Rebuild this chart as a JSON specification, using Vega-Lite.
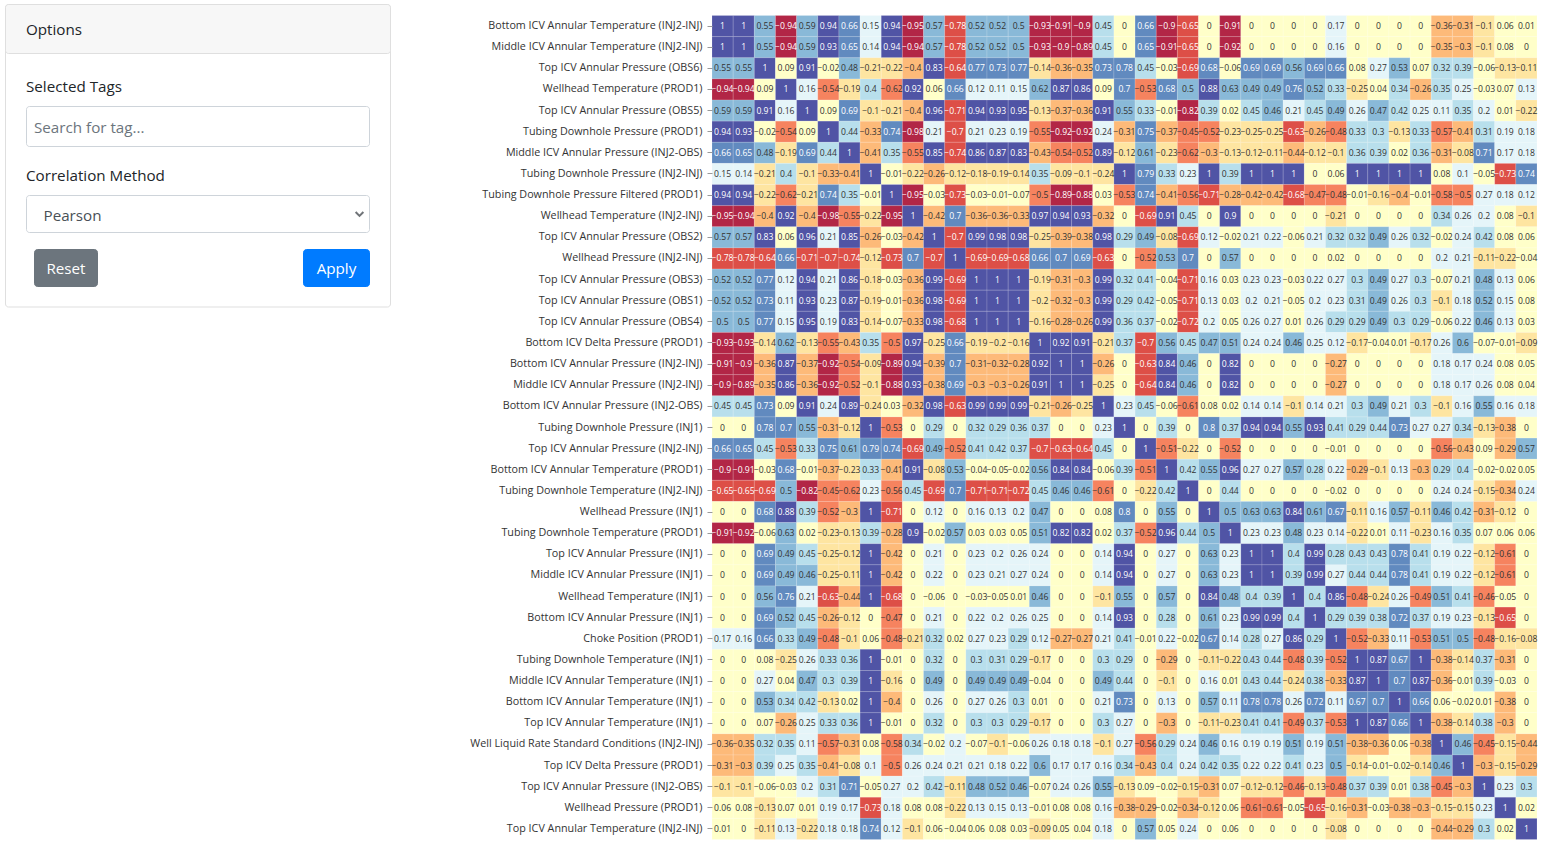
{"$schema":"https://vega.github.io/schema/vega-lite/v6.json","description":"Options panel and Pearson correlation heatmap of well tags","padding":0,"spacing":78,"background":"white","config":{"view":{"stroke":null},"font":"Open Sans"},
"datasets":{
"panel":[{"part":"card","x":5.5,"x2":390.5,"y":4.5,"y2":307},{"part":"header","x":5.5,"x2":390.5,"y":4.5,"y2":53.5},{"part":"input","x":26.5,"x2":369.5,"y":106.5,"y2":146.5},{"part":"input","x":26.5,"x2":369.5,"y":195.5,"y2":232.5},{"part":"reset","x":34.5,"x2":97.5,"y":249.5,"y2":286.5},{"part":"apply","x":303.5,"x2":369.5,"y":249.5,"y2":286.5}],
"labels":[{"kind":"label","text":"Options","x":26,"y":29.5},{"kind":"label","text":"Selected Tags","x":26,"y":87},{"kind":"hint","text":"Search for tag...","x":34,"y":128},{"kind":"label","text":"Correlation Method","x":26,"y":175.5},{"kind":"value","text":"Pearson","x":43.5,"y":215.5}],
"buttons":[{"text":"Reset","x":66,"y":268.5},{"text":"Apply","x":336.5,"y":268.5}],
"chevron":[{"x":359.5,"y":214}],
"tags":[{"i":1,"tag":"Bottom ICV Annular Temperature (INJ2-INJ)"},{"i":2,"tag":"Middle ICV Annular Temperature (INJ2-INJ)"},{"i":3,"tag":"Top ICV Annular Pressure (OBS6)"},{"i":4,"tag":"Wellhead Temperature (PROD1)"},{"i":5,"tag":"Top ICV Annular Pressure (OBS5)"},{"i":6,"tag":"Tubing Downhole Pressure (PROD1)"},{"i":7,"tag":"Middle ICV Annular Pressure (INJ2-OBS)"},{"i":8,"tag":"Tubing Downhole Pressure (INJ2-INJ)"},{"i":9,"tag":"Tubing Downhole Pressure Filtered (PROD1)"},{"i":10,"tag":"Wellhead Temperature (INJ2-INJ)"},{"i":11,"tag":"Top ICV Annular Pressure (OBS2)"},{"i":12,"tag":"Wellhead Pressure (INJ2-INJ)"},{"i":13,"tag":"Top ICV Annular Pressure (OBS3)"},{"i":14,"tag":"Top ICV Annular Pressure (OBS1)"},{"i":15,"tag":"Top ICV Annular Pressure (OBS4)"},{"i":16,"tag":"Bottom ICV Delta Pressure (PROD1)"},{"i":17,"tag":"Bottom ICV Annular Pressure (INJ2-INJ)"},{"i":18,"tag":"Middle ICV Annular Pressure (INJ2-INJ)"},{"i":19,"tag":"Bottom ICV Annular Pressure (INJ2-OBS)"},{"i":20,"tag":"Tubing Downhole Pressure (INJ1)"},{"i":21,"tag":"Top ICV Annular Pressure (INJ2-INJ)"},{"i":22,"tag":"Bottom ICV Annular Temperature (PROD1)"},{"i":23,"tag":"Tubing Downhole Temperature (INJ2-INJ)"},{"i":24,"tag":"Wellhead Pressure (INJ1)"},{"i":25,"tag":"Tubing Downhole Temperature (PROD1)"},{"i":26,"tag":"Top ICV Annular Pressure (INJ1)"},{"i":27,"tag":"Middle ICV Annular Pressure (INJ1)"},{"i":28,"tag":"Wellhead Temperature (INJ1)"},{"i":29,"tag":"Bottom ICV Annular Pressure (INJ1)"},{"i":30,"tag":"Choke Position (PROD1)"},{"i":31,"tag":"Tubing Downhole Temperature (INJ1)"},{"i":32,"tag":"Middle ICV Annular Temperature (INJ1)"},{"i":33,"tag":"Bottom ICV Annular Temperature (INJ1)"},{"i":34,"tag":"Top ICV Annular Temperature (INJ1)"},{"i":35,"tag":"Well Liquid Rate Standard Conditions (INJ2-INJ)"},{"i":36,"tag":"Top ICV Delta Pressure (PROD1)"},{"i":37,"tag":"Top ICV Annular Pressure (INJ2-OBS)"},{"i":38,"tag":"Wellhead Pressure (PROD1)"},{"i":39,"tag":"Top ICV Annular Temperature (INJ2-INJ)"}],
"cells":[
{"r":1,"c":1,"v":1},{"r":1,"c":2,"v":1},{"r":1,"c":3,"v":0.55},{"r":1,"c":4,"v":-0.94},{"r":1,"c":5,"v":0.59},{"r":1,"c":6,"v":0.94},{"r":1,"c":7,"v":0.66},{"r":1,"c":8,"v":0.15},{"r":1,"c":9,"v":0.94},{"r":1,"c":10,"v":-0.95},{"r":1,"c":11,"v":0.57},{"r":1,"c":12,"v":-0.78},{"r":1,"c":13,"v":0.52},{"r":1,"c":14,"v":0.52},{"r":1,"c":15,"v":0.5},{"r":1,"c":16,"v":-0.93},{"r":1,"c":17,"v":-0.91},{"r":1,"c":18,"v":-0.9},{"r":1,"c":19,"v":0.45},{"r":1,"c":20,"v":0},{"r":1,"c":21,"v":0.66},{"r":1,"c":22,"v":-0.9},{"r":1,"c":23,"v":-0.65},{"r":1,"c":24,"v":0},{"r":1,"c":25,"v":-0.91},{"r":1,"c":26,"v":0},{"r":1,"c":27,"v":0},{"r":1,"c":28,"v":0},{"r":1,"c":29,"v":0},{"r":1,"c":30,"v":0.17},{"r":1,"c":31,"v":0},{"r":1,"c":32,"v":0},{"r":1,"c":33,"v":0},{"r":1,"c":34,"v":0},{"r":1,"c":35,"v":-0.36},{"r":1,"c":36,"v":-0.31},{"r":1,"c":37,"v":-0.1},{"r":1,"c":38,"v":0.06},{"r":1,"c":39,"v":0.01},
{"r":2,"c":1,"v":1},{"r":2,"c":2,"v":1},{"r":2,"c":3,"v":0.55},{"r":2,"c":4,"v":-0.94},{"r":2,"c":5,"v":0.59},{"r":2,"c":6,"v":0.93},{"r":2,"c":7,"v":0.65},{"r":2,"c":8,"v":0.14},{"r":2,"c":9,"v":0.94},{"r":2,"c":10,"v":-0.94},{"r":2,"c":11,"v":0.57},{"r":2,"c":12,"v":-0.78},{"r":2,"c":13,"v":0.52},{"r":2,"c":14,"v":0.52},{"r":2,"c":15,"v":0.5},{"r":2,"c":16,"v":-0.93},{"r":2,"c":17,"v":-0.9},{"r":2,"c":18,"v":-0.89},{"r":2,"c":19,"v":0.45},{"r":2,"c":20,"v":0},{"r":2,"c":21,"v":0.65},{"r":2,"c":22,"v":-0.91},{"r":2,"c":23,"v":-0.65},{"r":2,"c":24,"v":0},{"r":2,"c":25,"v":-0.92},{"r":2,"c":26,"v":0},{"r":2,"c":27,"v":0},{"r":2,"c":28,"v":0},{"r":2,"c":29,"v":0},{"r":2,"c":30,"v":0.16},{"r":2,"c":31,"v":0},{"r":2,"c":32,"v":0},{"r":2,"c":33,"v":0},{"r":2,"c":34,"v":0},{"r":2,"c":35,"v":-0.35},{"r":2,"c":36,"v":-0.3},{"r":2,"c":37,"v":-0.1},{"r":2,"c":38,"v":0.08},{"r":2,"c":39,"v":0},
{"r":3,"c":1,"v":0.55},{"r":3,"c":2,"v":0.55},{"r":3,"c":3,"v":1},{"r":3,"c":4,"v":0.09},{"r":3,"c":5,"v":0.91},{"r":3,"c":6,"v":-0.02},{"r":3,"c":7,"v":0.48},{"r":3,"c":8,"v":-0.21},{"r":3,"c":9,"v":-0.22},{"r":3,"c":10,"v":-0.4},{"r":3,"c":11,"v":0.83},{"r":3,"c":12,"v":-0.64},{"r":3,"c":13,"v":0.77},{"r":3,"c":14,"v":0.73},{"r":3,"c":15,"v":0.77},{"r":3,"c":16,"v":-0.14},{"r":3,"c":17,"v":-0.36},{"r":3,"c":18,"v":-0.35},{"r":3,"c":19,"v":0.73},{"r":3,"c":20,"v":0.78},{"r":3,"c":21,"v":0.45},{"r":3,"c":22,"v":-0.03},{"r":3,"c":23,"v":-0.69},{"r":3,"c":24,"v":0.68},{"r":3,"c":25,"v":-0.06},{"r":3,"c":26,"v":0.69},{"r":3,"c":27,"v":0.69},{"r":3,"c":28,"v":0.56},{"r":3,"c":29,"v":0.69},{"r":3,"c":30,"v":0.66},{"r":3,"c":31,"v":0.08},{"r":3,"c":32,"v":0.27},{"r":3,"c":33,"v":0.53},{"r":3,"c":34,"v":0.07},{"r":3,"c":35,"v":0.32},{"r":3,"c":36,"v":0.39},{"r":3,"c":37,"v":-0.06},{"r":3,"c":38,"v":-0.13},{"r":3,"c":39,"v":-0.11},
{"r":4,"c":1,"v":-0.94},{"r":4,"c":2,"v":-0.94},{"r":4,"c":3,"v":0.09},{"r":4,"c":4,"v":1},{"r":4,"c":5,"v":0.16},{"r":4,"c":6,"v":-0.54},{"r":4,"c":7,"v":-0.19},{"r":4,"c":8,"v":0.4},{"r":4,"c":9,"v":-0.62},{"r":4,"c":10,"v":0.92},{"r":4,"c":11,"v":0.06},{"r":4,"c":12,"v":0.66},{"r":4,"c":13,"v":0.12},{"r":4,"c":14,"v":0.11},{"r":4,"c":15,"v":0.15},{"r":4,"c":16,"v":0.62},{"r":4,"c":17,"v":0.87},{"r":4,"c":18,"v":0.86},{"r":4,"c":19,"v":0.09},{"r":4,"c":20,"v":0.7},{"r":4,"c":21,"v":-0.53},{"r":4,"c":22,"v":0.68},{"r":4,"c":23,"v":0.5},{"r":4,"c":24,"v":0.88},{"r":4,"c":25,"v":0.63},{"r":4,"c":26,"v":0.49},{"r":4,"c":27,"v":0.49},{"r":4,"c":28,"v":0.76},{"r":4,"c":29,"v":0.52},{"r":4,"c":30,"v":0.33},{"r":4,"c":31,"v":-0.25},{"r":4,"c":32,"v":0.04},{"r":4,"c":33,"v":0.34},{"r":4,"c":34,"v":-0.26},{"r":4,"c":35,"v":0.35},{"r":4,"c":36,"v":0.25},{"r":4,"c":37,"v":-0.03},{"r":4,"c":38,"v":0.07},{"r":4,"c":39,"v":0.13},
{"r":5,"c":1,"v":0.59},{"r":5,"c":2,"v":0.59},{"r":5,"c":3,"v":0.91},{"r":5,"c":4,"v":0.16},{"r":5,"c":5,"v":1},{"r":5,"c":6,"v":0.09},{"r":5,"c":7,"v":0.69},{"r":5,"c":8,"v":-0.1},{"r":5,"c":9,"v":-0.21},{"r":5,"c":10,"v":-0.4},{"r":5,"c":11,"v":0.96},{"r":5,"c":12,"v":-0.71},{"r":5,"c":13,"v":0.94},{"r":5,"c":14,"v":0.93},{"r":5,"c":15,"v":0.95},{"r":5,"c":16,"v":-0.13},{"r":5,"c":17,"v":-0.37},{"r":5,"c":18,"v":-0.36},{"r":5,"c":19,"v":0.91},{"r":5,"c":20,"v":0.55},{"r":5,"c":21,"v":0.33},{"r":5,"c":22,"v":-0.01},{"r":5,"c":23,"v":-0.82},{"r":5,"c":24,"v":0.39},{"r":5,"c":25,"v":0.02},{"r":5,"c":26,"v":0.45},{"r":5,"c":27,"v":0.46},{"r":5,"c":28,"v":0.21},{"r":5,"c":29,"v":0.45},{"r":5,"c":30,"v":0.49},{"r":5,"c":31,"v":0.26},{"r":5,"c":32,"v":0.47},{"r":5,"c":33,"v":0.42},{"r":5,"c":34,"v":0.25},{"r":5,"c":35,"v":0.11},{"r":5,"c":36,"v":0.35},{"r":5,"c":37,"v":0.2},{"r":5,"c":38,"v":0.01},{"r":5,"c":39,"v":-0.22},
{"r":6,"c":1,"v":0.94},{"r":6,"c":2,"v":0.93},{"r":6,"c":3,"v":-0.02},{"r":6,"c":4,"v":-0.54},{"r":6,"c":5,"v":0.09},{"r":6,"c":6,"v":1},{"r":6,"c":7,"v":0.44},{"r":6,"c":8,"v":-0.33},{"r":6,"c":9,"v":0.74},{"r":6,"c":10,"v":-0.98},{"r":6,"c":11,"v":0.21},{"r":6,"c":12,"v":-0.7},{"r":6,"c":13,"v":0.21},{"r":6,"c":14,"v":0.23},{"r":6,"c":15,"v":0.19},{"r":6,"c":16,"v":-0.55},{"r":6,"c":17,"v":-0.92},{"r":6,"c":18,"v":-0.92},{"r":6,"c":19,"v":0.24},{"r":6,"c":20,"v":-0.31},{"r":6,"c":21,"v":0.75},{"r":6,"c":22,"v":-0.37},{"r":6,"c":23,"v":-0.45},{"r":6,"c":24,"v":-0.52},{"r":6,"c":25,"v":-0.23},{"r":6,"c":26,"v":-0.25},{"r":6,"c":27,"v":-0.25},{"r":6,"c":28,"v":-0.63},{"r":6,"c":29,"v":-0.26},{"r":6,"c":30,"v":-0.48},{"r":6,"c":31,"v":0.33},{"r":6,"c":32,"v":0.3},{"r":6,"c":33,"v":-0.13},{"r":6,"c":34,"v":0.33},{"r":6,"c":35,"v":-0.57},{"r":6,"c":36,"v":-0.41},{"r":6,"c":37,"v":0.31},{"r":6,"c":38,"v":0.19},{"r":6,"c":39,"v":0.18},
{"r":7,"c":1,"v":0.66},{"r":7,"c":2,"v":0.65},{"r":7,"c":3,"v":0.48},{"r":7,"c":4,"v":-0.19},{"r":7,"c":5,"v":0.69},{"r":7,"c":6,"v":0.44},{"r":7,"c":7,"v":1},{"r":7,"c":8,"v":-0.41},{"r":7,"c":9,"v":0.35},{"r":7,"c":10,"v":-0.55},{"r":7,"c":11,"v":0.85},{"r":7,"c":12,"v":-0.74},{"r":7,"c":13,"v":0.86},{"r":7,"c":14,"v":0.87},{"r":7,"c":15,"v":0.83},{"r":7,"c":16,"v":-0.43},{"r":7,"c":17,"v":-0.54},{"r":7,"c":18,"v":-0.52},{"r":7,"c":19,"v":0.89},{"r":7,"c":20,"v":-0.12},{"r":7,"c":21,"v":0.61},{"r":7,"c":22,"v":-0.23},{"r":7,"c":23,"v":-0.62},{"r":7,"c":24,"v":-0.3},{"r":7,"c":25,"v":-0.13},{"r":7,"c":26,"v":-0.12},{"r":7,"c":27,"v":-0.11},{"r":7,"c":28,"v":-0.44},{"r":7,"c":29,"v":-0.12},{"r":7,"c":30,"v":-0.1},{"r":7,"c":31,"v":0.36},{"r":7,"c":32,"v":0.39},{"r":7,"c":33,"v":0.02},{"r":7,"c":34,"v":0.36},{"r":7,"c":35,"v":-0.31},{"r":7,"c":36,"v":-0.08},{"r":7,"c":37,"v":0.71},{"r":7,"c":38,"v":0.17},{"r":7,"c":39,"v":0.18},
{"r":8,"c":1,"v":0.15},{"r":8,"c":2,"v":0.14},{"r":8,"c":3,"v":-0.21},{"r":8,"c":4,"v":0.4},{"r":8,"c":5,"v":-0.1},{"r":8,"c":6,"v":-0.33},{"r":8,"c":7,"v":-0.41},{"r":8,"c":8,"v":1},{"r":8,"c":9,"v":-0.01},{"r":8,"c":10,"v":-0.22},{"r":8,"c":11,"v":-0.26},{"r":8,"c":12,"v":-0.12},{"r":8,"c":13,"v":-0.18},{"r":8,"c":14,"v":-0.19},{"r":8,"c":15,"v":-0.14},{"r":8,"c":16,"v":0.35},{"r":8,"c":17,"v":-0.09},{"r":8,"c":18,"v":-0.1},{"r":8,"c":19,"v":-0.24},{"r":8,"c":20,"v":1},{"r":8,"c":21,"v":0.79},{"r":8,"c":22,"v":0.33},{"r":8,"c":23,"v":0.23},{"r":8,"c":24,"v":1},{"r":8,"c":25,"v":0.39},{"r":8,"c":26,"v":1},{"r":8,"c":27,"v":1},{"r":8,"c":28,"v":1},{"r":8,"c":29,"v":0},{"r":8,"c":30,"v":0.06},{"r":8,"c":31,"v":1},{"r":8,"c":32,"v":1},{"r":8,"c":33,"v":1},{"r":8,"c":34,"v":1},{"r":8,"c":35,"v":0.08},{"r":8,"c":36,"v":0.1},{"r":8,"c":37,"v":-0.05},{"r":8,"c":38,"v":-0.73},{"r":8,"c":39,"v":0.74},
{"r":9,"c":1,"v":0.94},{"r":9,"c":2,"v":0.94},{"r":9,"c":3,"v":-0.22},{"r":9,"c":4,"v":-0.62},{"r":9,"c":5,"v":-0.21},{"r":9,"c":6,"v":0.74},{"r":9,"c":7,"v":0.35},{"r":9,"c":8,"v":-0.01},{"r":9,"c":9,"v":1},{"r":9,"c":10,"v":-0.95},{"r":9,"c":11,"v":-0.03},{"r":9,"c":12,"v":-0.73},{"r":9,"c":13,"v":-0.03},{"r":9,"c":14,"v":-0.01},{"r":9,"c":15,"v":-0.07},{"r":9,"c":16,"v":-0.5},{"r":9,"c":17,"v":-0.89},{"r":9,"c":18,"v":-0.88},{"r":9,"c":19,"v":0.03},{"r":9,"c":20,"v":-0.53},{"r":9,"c":21,"v":0.74},{"r":9,"c":22,"v":-0.41},{"r":9,"c":23,"v":-0.56},{"r":9,"c":24,"v":-0.71},{"r":9,"c":25,"v":-0.28},{"r":9,"c":26,"v":-0.42},{"r":9,"c":27,"v":-0.42},{"r":9,"c":28,"v":-0.68},{"r":9,"c":29,"v":-0.47},{"r":9,"c":30,"v":-0.48},{"r":9,"c":31,"v":-0.01},{"r":9,"c":32,"v":-0.16},{"r":9,"c":33,"v":-0.4},{"r":9,"c":34,"v":-0.01},{"r":9,"c":35,"v":-0.58},{"r":9,"c":36,"v":-0.5},{"r":9,"c":37,"v":0.27},{"r":9,"c":38,"v":0.18},{"r":9,"c":39,"v":0.12},
{"r":10,"c":1,"v":-0.95},{"r":10,"c":2,"v":-0.94},{"r":10,"c":3,"v":-0.4},{"r":10,"c":4,"v":0.92},{"r":10,"c":5,"v":-0.4},{"r":10,"c":6,"v":-0.98},{"r":10,"c":7,"v":-0.55},{"r":10,"c":8,"v":-0.22},{"r":10,"c":9,"v":-0.95},{"r":10,"c":10,"v":1},{"r":10,"c":11,"v":-0.42},{"r":10,"c":12,"v":0.7},{"r":10,"c":13,"v":-0.36},{"r":10,"c":14,"v":-0.36},{"r":10,"c":15,"v":-0.33},{"r":10,"c":16,"v":0.97},{"r":10,"c":17,"v":0.94},{"r":10,"c":18,"v":0.93},{"r":10,"c":19,"v":-0.32},{"r":10,"c":20,"v":0},{"r":10,"c":21,"v":-0.69},{"r":10,"c":22,"v":0.91},{"r":10,"c":23,"v":0.45},{"r":10,"c":24,"v":0},{"r":10,"c":25,"v":0.9},{"r":10,"c":26,"v":0},{"r":10,"c":27,"v":0},{"r":10,"c":28,"v":0},{"r":10,"c":29,"v":0},{"r":10,"c":30,"v":-0.21},{"r":10,"c":31,"v":0},{"r":10,"c":32,"v":0},{"r":10,"c":33,"v":0},{"r":10,"c":34,"v":0},{"r":10,"c":35,"v":0.34},{"r":10,"c":36,"v":0.26},{"r":10,"c":37,"v":0.2},{"r":10,"c":38,"v":0.08},{"r":10,"c":39,"v":-0.1},
{"r":11,"c":1,"v":0.57},{"r":11,"c":2,"v":0.57},{"r":11,"c":3,"v":0.83},{"r":11,"c":4,"v":0.06},{"r":11,"c":5,"v":0.96},{"r":11,"c":6,"v":0.21},{"r":11,"c":7,"v":0.85},{"r":11,"c":8,"v":-0.26},{"r":11,"c":9,"v":-0.03},{"r":11,"c":10,"v":-0.42},{"r":11,"c":11,"v":1},{"r":11,"c":12,"v":-0.7},{"r":11,"c":13,"v":0.99},{"r":11,"c":14,"v":0.98},{"r":11,"c":15,"v":0.98},{"r":11,"c":16,"v":-0.25},{"r":11,"c":17,"v":-0.39},{"r":11,"c":18,"v":-0.38},{"r":11,"c":19,"v":0.98},{"r":11,"c":20,"v":0.29},{"r":11,"c":21,"v":0.49},{"r":11,"c":22,"v":-0.08},{"r":11,"c":23,"v":-0.69},{"r":11,"c":24,"v":0.12},{"r":11,"c":25,"v":-0.02},{"r":11,"c":26,"v":0.21},{"r":11,"c":27,"v":0.22},{"r":11,"c":28,"v":-0.06},{"r":11,"c":29,"v":0.21},{"r":11,"c":30,"v":0.32},{"r":11,"c":31,"v":0.32},{"r":11,"c":32,"v":0.49},{"r":11,"c":33,"v":0.26},{"r":11,"c":34,"v":0.32},{"r":11,"c":35,"v":-0.02},{"r":11,"c":36,"v":0.24},{"r":11,"c":37,"v":0.42},{"r":11,"c":38,"v":0.08},{"r":11,"c":39,"v":0.06},
{"r":12,"c":1,"v":-0.78},{"r":12,"c":2,"v":-0.78},{"r":12,"c":3,"v":-0.64},{"r":12,"c":4,"v":0.66},{"r":12,"c":5,"v":-0.71},{"r":12,"c":6,"v":-0.7},{"r":12,"c":7,"v":-0.74},{"r":12,"c":8,"v":-0.12},{"r":12,"c":9,"v":-0.73},{"r":12,"c":10,"v":0.7},{"r":12,"c":11,"v":-0.7},{"r":12,"c":12,"v":1},{"r":12,"c":13,"v":-0.69},{"r":12,"c":14,"v":-0.69},{"r":12,"c":15,"v":-0.68},{"r":12,"c":16,"v":0.66},{"r":12,"c":17,"v":0.7},{"r":12,"c":18,"v":0.69},{"r":12,"c":19,"v":-0.63},{"r":12,"c":20,"v":0},{"r":12,"c":21,"v":-0.52},{"r":12,"c":22,"v":0.53},{"r":12,"c":23,"v":0.7},{"r":12,"c":24,"v":0},{"r":12,"c":25,"v":0.57},{"r":12,"c":26,"v":0},{"r":12,"c":27,"v":0},{"r":12,"c":28,"v":0},{"r":12,"c":29,"v":0},{"r":12,"c":30,"v":0.02},{"r":12,"c":31,"v":0},{"r":12,"c":32,"v":0},{"r":12,"c":33,"v":0},{"r":12,"c":34,"v":0},{"r":12,"c":35,"v":0.2},{"r":12,"c":36,"v":0.21},{"r":12,"c":37,"v":-0.11},{"r":12,"c":38,"v":-0.22},{"r":12,"c":39,"v":-0.04},
{"r":13,"c":1,"v":0.52},{"r":13,"c":2,"v":0.52},{"r":13,"c":3,"v":0.77},{"r":13,"c":4,"v":0.12},{"r":13,"c":5,"v":0.94},{"r":13,"c":6,"v":0.21},{"r":13,"c":7,"v":0.86},{"r":13,"c":8,"v":-0.18},{"r":13,"c":9,"v":-0.03},{"r":13,"c":10,"v":-0.36},{"r":13,"c":11,"v":0.99},{"r":13,"c":12,"v":-0.69},{"r":13,"c":13,"v":1},{"r":13,"c":14,"v":1},{"r":13,"c":15,"v":1},{"r":13,"c":16,"v":-0.19},{"r":13,"c":17,"v":-0.31},{"r":13,"c":18,"v":-0.3},{"r":13,"c":19,"v":0.99},{"r":13,"c":20,"v":0.32},{"r":13,"c":21,"v":0.41},{"r":13,"c":22,"v":-0.04},{"r":13,"c":23,"v":-0.71},{"r":13,"c":24,"v":0.16},{"r":13,"c":25,"v":0.03},{"r":13,"c":26,"v":0.23},{"r":13,"c":27,"v":0.23},{"r":13,"c":28,"v":-0.03},{"r":13,"c":29,"v":0.22},{"r":13,"c":30,"v":0.27},{"r":13,"c":31,"v":0.3},{"r":13,"c":32,"v":0.49},{"r":13,"c":33,"v":0.27},{"r":13,"c":34,"v":0.3},{"r":13,"c":35,"v":-0.07},{"r":13,"c":36,"v":0.21},{"r":13,"c":37,"v":0.48},{"r":13,"c":38,"v":0.13},{"r":13,"c":39,"v":0.06},
{"r":14,"c":1,"v":0.52},{"r":14,"c":2,"v":0.52},{"r":14,"c":3,"v":0.73},{"r":14,"c":4,"v":0.11},{"r":14,"c":5,"v":0.93},{"r":14,"c":6,"v":0.23},{"r":14,"c":7,"v":0.87},{"r":14,"c":8,"v":-0.19},{"r":14,"c":9,"v":-0.01},{"r":14,"c":10,"v":-0.36},{"r":14,"c":11,"v":0.98},{"r":14,"c":12,"v":-0.69},{"r":14,"c":13,"v":1},{"r":14,"c":14,"v":1},{"r":14,"c":15,"v":1},{"r":14,"c":16,"v":-0.2},{"r":14,"c":17,"v":-0.32},{"r":14,"c":18,"v":-0.3},{"r":14,"c":19,"v":0.99},{"r":14,"c":20,"v":0.29},{"r":14,"c":21,"v":0.42},{"r":14,"c":22,"v":-0.05},{"r":14,"c":23,"v":-0.71},{"r":14,"c":24,"v":0.13},{"r":14,"c":25,"v":0.03},{"r":14,"c":26,"v":0.2},{"r":14,"c":27,"v":0.21},{"r":14,"c":28,"v":-0.05},{"r":14,"c":29,"v":0.2},{"r":14,"c":30,"v":0.23},{"r":14,"c":31,"v":0.31},{"r":14,"c":32,"v":0.49},{"r":14,"c":33,"v":0.26},{"r":14,"c":34,"v":0.3},{"r":14,"c":35,"v":-0.1},{"r":14,"c":36,"v":0.18},{"r":14,"c":37,"v":0.52},{"r":14,"c":38,"v":0.15},{"r":14,"c":39,"v":0.08},
{"r":15,"c":1,"v":0.5},{"r":15,"c":2,"v":0.5},{"r":15,"c":3,"v":0.77},{"r":15,"c":4,"v":0.15},{"r":15,"c":5,"v":0.95},{"r":15,"c":6,"v":0.19},{"r":15,"c":7,"v":0.83},{"r":15,"c":8,"v":-0.14},{"r":15,"c":9,"v":-0.07},{"r":15,"c":10,"v":-0.33},{"r":15,"c":11,"v":0.98},{"r":15,"c":12,"v":-0.68},{"r":15,"c":13,"v":1},{"r":15,"c":14,"v":1},{"r":15,"c":15,"v":1},{"r":15,"c":16,"v":-0.16},{"r":15,"c":17,"v":-0.28},{"r":15,"c":18,"v":-0.26},{"r":15,"c":19,"v":0.99},{"r":15,"c":20,"v":0.36},{"r":15,"c":21,"v":0.37},{"r":15,"c":22,"v":-0.02},{"r":15,"c":23,"v":-0.72},{"r":15,"c":24,"v":0.2},{"r":15,"c":25,"v":0.05},{"r":15,"c":26,"v":0.26},{"r":15,"c":27,"v":0.27},{"r":15,"c":28,"v":0.01},{"r":15,"c":29,"v":0.26},{"r":15,"c":30,"v":0.29},{"r":15,"c":31,"v":0.29},{"r":15,"c":32,"v":0.49},{"r":15,"c":33,"v":0.3},{"r":15,"c":34,"v":0.29},{"r":15,"c":35,"v":-0.06},{"r":15,"c":36,"v":0.22},{"r":15,"c":37,"v":0.46},{"r":15,"c":38,"v":0.13},{"r":15,"c":39,"v":0.03},
{"r":16,"c":1,"v":-0.93},{"r":16,"c":2,"v":-0.93},{"r":16,"c":3,"v":-0.14},{"r":16,"c":4,"v":0.62},{"r":16,"c":5,"v":-0.13},{"r":16,"c":6,"v":-0.55},{"r":16,"c":7,"v":-0.43},{"r":16,"c":8,"v":0.35},{"r":16,"c":9,"v":-0.5},{"r":16,"c":10,"v":0.97},{"r":16,"c":11,"v":-0.25},{"r":16,"c":12,"v":0.66},{"r":16,"c":13,"v":-0.19},{"r":16,"c":14,"v":-0.2},{"r":16,"c":15,"v":-0.16},{"r":16,"c":16,"v":1},{"r":16,"c":17,"v":0.92},{"r":16,"c":18,"v":0.91},{"r":16,"c":19,"v":-0.21},{"r":16,"c":20,"v":0.37},{"r":16,"c":21,"v":-0.7},{"r":16,"c":22,"v":0.56},{"r":16,"c":23,"v":0.45},{"r":16,"c":24,"v":0.47},{"r":16,"c":25,"v":0.51},{"r":16,"c":26,"v":0.24},{"r":16,"c":27,"v":0.24},{"r":16,"c":28,"v":0.46},{"r":16,"c":29,"v":0.25},{"r":16,"c":30,"v":0.12},{"r":16,"c":31,"v":-0.17},{"r":16,"c":32,"v":-0.04},{"r":16,"c":33,"v":0.01},{"r":16,"c":34,"v":-0.17},{"r":16,"c":35,"v":0.26},{"r":16,"c":36,"v":0.6},{"r":16,"c":37,"v":-0.07},{"r":16,"c":38,"v":-0.01},{"r":16,"c":39,"v":-0.09},
{"r":17,"c":1,"v":-0.91},{"r":17,"c":2,"v":-0.9},{"r":17,"c":3,"v":-0.36},{"r":17,"c":4,"v":0.87},{"r":17,"c":5,"v":-0.37},{"r":17,"c":6,"v":-0.92},{"r":17,"c":7,"v":-0.54},{"r":17,"c":8,"v":-0.09},{"r":17,"c":9,"v":-0.89},{"r":17,"c":10,"v":0.94},{"r":17,"c":11,"v":-0.39},{"r":17,"c":12,"v":0.7},{"r":17,"c":13,"v":-0.31},{"r":17,"c":14,"v":-0.32},{"r":17,"c":15,"v":-0.28},{"r":17,"c":16,"v":0.92},{"r":17,"c":17,"v":1},{"r":17,"c":18,"v":1},{"r":17,"c":19,"v":-0.26},{"r":17,"c":20,"v":0},{"r":17,"c":21,"v":-0.63},{"r":17,"c":22,"v":0.84},{"r":17,"c":23,"v":0.46},{"r":17,"c":24,"v":0},{"r":17,"c":25,"v":0.82},{"r":17,"c":26,"v":0},{"r":17,"c":27,"v":0},{"r":17,"c":28,"v":0},{"r":17,"c":29,"v":0},{"r":17,"c":30,"v":-0.27},{"r":17,"c":31,"v":0},{"r":17,"c":32,"v":0},{"r":17,"c":33,"v":0},{"r":17,"c":34,"v":0},{"r":17,"c":35,"v":0.18},{"r":17,"c":36,"v":0.17},{"r":17,"c":37,"v":0.24},{"r":17,"c":38,"v":0.08},{"r":17,"c":39,"v":0.05},
{"r":18,"c":1,"v":-0.9},{"r":18,"c":2,"v":-0.89},{"r":18,"c":3,"v":-0.35},{"r":18,"c":4,"v":0.86},{"r":18,"c":5,"v":-0.36},{"r":18,"c":6,"v":-0.92},{"r":18,"c":7,"v":-0.52},{"r":18,"c":8,"v":-0.1},{"r":18,"c":9,"v":-0.88},{"r":18,"c":10,"v":0.93},{"r":18,"c":11,"v":-0.38},{"r":18,"c":12,"v":0.69},{"r":18,"c":13,"v":-0.3},{"r":18,"c":14,"v":-0.3},{"r":18,"c":15,"v":-0.26},{"r":18,"c":16,"v":0.91},{"r":18,"c":17,"v":1},{"r":18,"c":18,"v":1},{"r":18,"c":19,"v":-0.25},{"r":18,"c":20,"v":0},{"r":18,"c":21,"v":-0.64},{"r":18,"c":22,"v":0.84},{"r":18,"c":23,"v":0.46},{"r":18,"c":24,"v":0},{"r":18,"c":25,"v":0.82},{"r":18,"c":26,"v":0},{"r":18,"c":27,"v":0},{"r":18,"c":28,"v":0},{"r":18,"c":29,"v":0},{"r":18,"c":30,"v":-0.27},{"r":18,"c":31,"v":0},{"r":18,"c":32,"v":0},{"r":18,"c":33,"v":0},{"r":18,"c":34,"v":0},{"r":18,"c":35,"v":0.18},{"r":18,"c":36,"v":0.17},{"r":18,"c":37,"v":0.26},{"r":18,"c":38,"v":0.08},{"r":18,"c":39,"v":0.04},
{"r":19,"c":1,"v":0.45},{"r":19,"c":2,"v":0.45},{"r":19,"c":3,"v":0.73},{"r":19,"c":4,"v":0.09},{"r":19,"c":5,"v":0.91},{"r":19,"c":6,"v":0.24},{"r":19,"c":7,"v":0.89},{"r":19,"c":8,"v":-0.24},{"r":19,"c":9,"v":0.03},{"r":19,"c":10,"v":-0.32},{"r":19,"c":11,"v":0.98},{"r":19,"c":12,"v":-0.63},{"r":19,"c":13,"v":0.99},{"r":19,"c":14,"v":0.99},{"r":19,"c":15,"v":0.99},{"r":19,"c":16,"v":-0.21},{"r":19,"c":17,"v":-0.26},{"r":19,"c":18,"v":-0.25},{"r":19,"c":19,"v":1},{"r":19,"c":20,"v":0.23},{"r":19,"c":21,"v":0.45},{"r":19,"c":22,"v":-0.06},{"r":19,"c":23,"v":-0.61},{"r":19,"c":24,"v":0.08},{"r":19,"c":25,"v":0.02},{"r":19,"c":26,"v":0.14},{"r":19,"c":27,"v":0.14},{"r":19,"c":28,"v":-0.1},{"r":19,"c":29,"v":0.14},{"r":19,"c":30,"v":0.21},{"r":19,"c":31,"v":0.3},{"r":19,"c":32,"v":0.49},{"r":19,"c":33,"v":0.21},{"r":19,"c":34,"v":0.3},{"r":19,"c":35,"v":-0.1},{"r":19,"c":36,"v":0.16},{"r":19,"c":37,"v":0.55},{"r":19,"c":38,"v":0.16},{"r":19,"c":39,"v":0.18},
{"r":20,"c":1,"v":0},{"r":20,"c":2,"v":0},{"r":20,"c":3,"v":0.78},{"r":20,"c":4,"v":0.7},{"r":20,"c":5,"v":0.55},{"r":20,"c":6,"v":-0.31},{"r":20,"c":7,"v":-0.12},{"r":20,"c":8,"v":1},{"r":20,"c":9,"v":-0.53},{"r":20,"c":10,"v":0},{"r":20,"c":11,"v":0.29},{"r":20,"c":12,"v":0},{"r":20,"c":13,"v":0.32},{"r":20,"c":14,"v":0.29},{"r":20,"c":15,"v":0.36},{"r":20,"c":16,"v":0.37},{"r":20,"c":17,"v":0},{"r":20,"c":18,"v":0},{"r":20,"c":19,"v":0.23},{"r":20,"c":20,"v":1},{"r":20,"c":21,"v":0},{"r":20,"c":22,"v":0.39},{"r":20,"c":23,"v":0},{"r":20,"c":24,"v":0.8},{"r":20,"c":25,"v":0.37},{"r":20,"c":26,"v":0.94},{"r":20,"c":27,"v":0.94},{"r":20,"c":28,"v":0.55},{"r":20,"c":29,"v":0.93},{"r":20,"c":30,"v":0.41},{"r":20,"c":31,"v":0.29},{"r":20,"c":32,"v":0.44},{"r":20,"c":33,"v":0.73},{"r":20,"c":34,"v":0.27},{"r":20,"c":35,"v":0.27},{"r":20,"c":36,"v":0.34},{"r":20,"c":37,"v":-0.13},{"r":20,"c":38,"v":-0.38},{"r":20,"c":39,"v":0},
{"r":21,"c":1,"v":0.66},{"r":21,"c":2,"v":0.65},{"r":21,"c":3,"v":0.45},{"r":21,"c":4,"v":-0.53},{"r":21,"c":5,"v":0.33},{"r":21,"c":6,"v":0.75},{"r":21,"c":7,"v":0.61},{"r":21,"c":8,"v":0.79},{"r":21,"c":9,"v":0.74},{"r":21,"c":10,"v":-0.69},{"r":21,"c":11,"v":0.49},{"r":21,"c":12,"v":-0.52},{"r":21,"c":13,"v":0.41},{"r":21,"c":14,"v":0.42},{"r":21,"c":15,"v":0.37},{"r":21,"c":16,"v":-0.7},{"r":21,"c":17,"v":-0.63},{"r":21,"c":18,"v":-0.64},{"r":21,"c":19,"v":0.45},{"r":21,"c":20,"v":0},{"r":21,"c":21,"v":1},{"r":21,"c":22,"v":-0.51},{"r":21,"c":23,"v":-0.22},{"r":21,"c":24,"v":0},{"r":21,"c":25,"v":-0.52},{"r":21,"c":26,"v":0},{"r":21,"c":27,"v":0},{"r":21,"c":28,"v":0},{"r":21,"c":29,"v":0},{"r":21,"c":30,"v":-0.01},{"r":21,"c":31,"v":0},{"r":21,"c":32,"v":0},{"r":21,"c":33,"v":0},{"r":21,"c":34,"v":0},{"r":21,"c":35,"v":-0.56},{"r":21,"c":36,"v":-0.43},{"r":21,"c":37,"v":0.09},{"r":21,"c":38,"v":-0.29},{"r":21,"c":39,"v":0.57},
{"r":22,"c":1,"v":-0.9},{"r":22,"c":2,"v":-0.91},{"r":22,"c":3,"v":-0.03},{"r":22,"c":4,"v":0.68},{"r":22,"c":5,"v":-0.01},{"r":22,"c":6,"v":-0.37},{"r":22,"c":7,"v":-0.23},{"r":22,"c":8,"v":0.33},{"r":22,"c":9,"v":-0.41},{"r":22,"c":10,"v":0.91},{"r":22,"c":11,"v":-0.08},{"r":22,"c":12,"v":0.53},{"r":22,"c":13,"v":-0.04},{"r":22,"c":14,"v":-0.05},{"r":22,"c":15,"v":-0.02},{"r":22,"c":16,"v":0.56},{"r":22,"c":17,"v":0.84},{"r":22,"c":18,"v":0.84},{"r":22,"c":19,"v":-0.06},{"r":22,"c":20,"v":0.39},{"r":22,"c":21,"v":-0.51},{"r":22,"c":22,"v":1},{"r":22,"c":23,"v":0.42},{"r":22,"c":24,"v":0.55},{"r":22,"c":25,"v":0.96},{"r":22,"c":26,"v":0.27},{"r":22,"c":27,"v":0.27},{"r":22,"c":28,"v":0.57},{"r":22,"c":29,"v":0.28},{"r":22,"c":30,"v":0.22},{"r":22,"c":31,"v":-0.29},{"r":22,"c":32,"v":-0.1},{"r":22,"c":33,"v":0.13},{"r":22,"c":34,"v":-0.3},{"r":22,"c":35,"v":0.29},{"r":22,"c":36,"v":0.4},{"r":22,"c":37,"v":-0.02},{"r":22,"c":38,"v":-0.02},{"r":22,"c":39,"v":0.05},
{"r":23,"c":1,"v":-0.65},{"r":23,"c":2,"v":-0.65},{"r":23,"c":3,"v":-0.69},{"r":23,"c":4,"v":0.5},{"r":23,"c":5,"v":-0.82},{"r":23,"c":6,"v":-0.45},{"r":23,"c":7,"v":-0.62},{"r":23,"c":8,"v":0.23},{"r":23,"c":9,"v":-0.56},{"r":23,"c":10,"v":0.45},{"r":23,"c":11,"v":-0.69},{"r":23,"c":12,"v":0.7},{"r":23,"c":13,"v":-0.71},{"r":23,"c":14,"v":-0.71},{"r":23,"c":15,"v":-0.72},{"r":23,"c":16,"v":0.45},{"r":23,"c":17,"v":0.46},{"r":23,"c":18,"v":0.46},{"r":23,"c":19,"v":-0.61},{"r":23,"c":20,"v":0},{"r":23,"c":21,"v":-0.22},{"r":23,"c":22,"v":0.42},{"r":23,"c":23,"v":1},{"r":23,"c":24,"v":0},{"r":23,"c":25,"v":0.44},{"r":23,"c":26,"v":0},{"r":23,"c":27,"v":0},{"r":23,"c":28,"v":0},{"r":23,"c":29,"v":0},{"r":23,"c":30,"v":-0.02},{"r":23,"c":31,"v":0},{"r":23,"c":32,"v":0},{"r":23,"c":33,"v":0},{"r":23,"c":34,"v":0},{"r":23,"c":35,"v":0.24},{"r":23,"c":36,"v":0.24},{"r":23,"c":37,"v":-0.15},{"r":23,"c":38,"v":-0.34},{"r":23,"c":39,"v":0.24},
{"r":24,"c":1,"v":0},{"r":24,"c":2,"v":0},{"r":24,"c":3,"v":0.68},{"r":24,"c":4,"v":0.88},{"r":24,"c":5,"v":0.39},{"r":24,"c":6,"v":-0.52},{"r":24,"c":7,"v":-0.3},{"r":24,"c":8,"v":1},{"r":24,"c":9,"v":-0.71},{"r":24,"c":10,"v":0},{"r":24,"c":11,"v":0.12},{"r":24,"c":12,"v":0},{"r":24,"c":13,"v":0.16},{"r":24,"c":14,"v":0.13},{"r":24,"c":15,"v":0.2},{"r":24,"c":16,"v":0.47},{"r":24,"c":17,"v":0},{"r":24,"c":18,"v":0},{"r":24,"c":19,"v":0.08},{"r":24,"c":20,"v":0.8},{"r":24,"c":21,"v":0},{"r":24,"c":22,"v":0.55},{"r":24,"c":23,"v":0},{"r":24,"c":24,"v":1},{"r":24,"c":25,"v":0.5},{"r":24,"c":26,"v":0.63},{"r":24,"c":27,"v":0.63},{"r":24,"c":28,"v":0.84},{"r":24,"c":29,"v":0.61},{"r":24,"c":30,"v":0.67},{"r":24,"c":31,"v":-0.11},{"r":24,"c":32,"v":0.16},{"r":24,"c":33,"v":0.57},{"r":24,"c":34,"v":-0.11},{"r":24,"c":35,"v":0.46},{"r":24,"c":36,"v":0.42},{"r":24,"c":37,"v":-0.31},{"r":24,"c":38,"v":-0.12},{"r":24,"c":39,"v":0},
{"r":25,"c":1,"v":-0.91},{"r":25,"c":2,"v":-0.92},{"r":25,"c":3,"v":-0.06},{"r":25,"c":4,"v":0.63},{"r":25,"c":5,"v":0.02},{"r":25,"c":6,"v":-0.23},{"r":25,"c":7,"v":-0.13},{"r":25,"c":8,"v":0.39},{"r":25,"c":9,"v":-0.28},{"r":25,"c":10,"v":0.9},{"r":25,"c":11,"v":-0.02},{"r":25,"c":12,"v":0.57},{"r":25,"c":13,"v":0.03},{"r":25,"c":14,"v":0.03},{"r":25,"c":15,"v":0.05},{"r":25,"c":16,"v":0.51},{"r":25,"c":17,"v":0.82},{"r":25,"c":18,"v":0.82},{"r":25,"c":19,"v":0.02},{"r":25,"c":20,"v":0.37},{"r":25,"c":21,"v":-0.52},{"r":25,"c":22,"v":0.96},{"r":25,"c":23,"v":0.44},{"r":25,"c":24,"v":0.5},{"r":25,"c":25,"v":1},{"r":25,"c":26,"v":0.23},{"r":25,"c":27,"v":0.23},{"r":25,"c":28,"v":0.48},{"r":25,"c":29,"v":0.23},{"r":25,"c":30,"v":0.14},{"r":25,"c":31,"v":-0.22},{"r":25,"c":32,"v":0.01},{"r":25,"c":33,"v":0.11},{"r":25,"c":34,"v":-0.23},{"r":25,"c":35,"v":0.16},{"r":25,"c":36,"v":0.35},{"r":25,"c":37,"v":0.07},{"r":25,"c":38,"v":0.06},{"r":25,"c":39,"v":0.06},
{"r":26,"c":1,"v":0},{"r":26,"c":2,"v":0},{"r":26,"c":3,"v":0.69},{"r":26,"c":4,"v":0.49},{"r":26,"c":5,"v":0.45},{"r":26,"c":6,"v":-0.25},{"r":26,"c":7,"v":-0.12},{"r":26,"c":8,"v":1},{"r":26,"c":9,"v":-0.42},{"r":26,"c":10,"v":0},{"r":26,"c":11,"v":0.21},{"r":26,"c":12,"v":0},{"r":26,"c":13,"v":0.23},{"r":26,"c":14,"v":0.2},{"r":26,"c":15,"v":0.26},{"r":26,"c":16,"v":0.24},{"r":26,"c":17,"v":0},{"r":26,"c":18,"v":0},{"r":26,"c":19,"v":0.14},{"r":26,"c":20,"v":0.94},{"r":26,"c":21,"v":0},{"r":26,"c":22,"v":0.27},{"r":26,"c":23,"v":0},{"r":26,"c":24,"v":0.63},{"r":26,"c":25,"v":0.23},{"r":26,"c":26,"v":1},{"r":26,"c":27,"v":1},{"r":26,"c":28,"v":0.4},{"r":26,"c":29,"v":0.99},{"r":26,"c":30,"v":0.28},{"r":26,"c":31,"v":0.43},{"r":26,"c":32,"v":0.43},{"r":26,"c":33,"v":0.78},{"r":26,"c":34,"v":0.41},{"r":26,"c":35,"v":0.19},{"r":26,"c":36,"v":0.22},{"r":26,"c":37,"v":-0.12},{"r":26,"c":38,"v":-0.61},{"r":26,"c":39,"v":0},
{"r":27,"c":1,"v":0},{"r":27,"c":2,"v":0},{"r":27,"c":3,"v":0.69},{"r":27,"c":4,"v":0.49},{"r":27,"c":5,"v":0.46},{"r":27,"c":6,"v":-0.25},{"r":27,"c":7,"v":-0.11},{"r":27,"c":8,"v":1},{"r":27,"c":9,"v":-0.42},{"r":27,"c":10,"v":0},{"r":27,"c":11,"v":0.22},{"r":27,"c":12,"v":0},{"r":27,"c":13,"v":0.23},{"r":27,"c":14,"v":0.21},{"r":27,"c":15,"v":0.27},{"r":27,"c":16,"v":0.24},{"r":27,"c":17,"v":0},{"r":27,"c":18,"v":0},{"r":27,"c":19,"v":0.14},{"r":27,"c":20,"v":0.94},{"r":27,"c":21,"v":0},{"r":27,"c":22,"v":0.27},{"r":27,"c":23,"v":0},{"r":27,"c":24,"v":0.63},{"r":27,"c":25,"v":0.23},{"r":27,"c":26,"v":1},{"r":27,"c":27,"v":1},{"r":27,"c":28,"v":0.39},{"r":27,"c":29,"v":0.99},{"r":27,"c":30,"v":0.27},{"r":27,"c":31,"v":0.44},{"r":27,"c":32,"v":0.44},{"r":27,"c":33,"v":0.78},{"r":27,"c":34,"v":0.41},{"r":27,"c":35,"v":0.19},{"r":27,"c":36,"v":0.22},{"r":27,"c":37,"v":-0.12},{"r":27,"c":38,"v":-0.61},{"r":27,"c":39,"v":0},
{"r":28,"c":1,"v":0},{"r":28,"c":2,"v":0},{"r":28,"c":3,"v":0.56},{"r":28,"c":4,"v":0.76},{"r":28,"c":5,"v":0.21},{"r":28,"c":6,"v":-0.63},{"r":28,"c":7,"v":-0.44},{"r":28,"c":8,"v":1},{"r":28,"c":9,"v":-0.68},{"r":28,"c":10,"v":0},{"r":28,"c":11,"v":-0.06},{"r":28,"c":12,"v":0},{"r":28,"c":13,"v":-0.03},{"r":28,"c":14,"v":-0.05},{"r":28,"c":15,"v":0.01},{"r":28,"c":16,"v":0.46},{"r":28,"c":17,"v":0},{"r":28,"c":18,"v":0},{"r":28,"c":19,"v":-0.1},{"r":28,"c":20,"v":0.55},{"r":28,"c":21,"v":0},{"r":28,"c":22,"v":0.57},{"r":28,"c":23,"v":0},{"r":28,"c":24,"v":0.84},{"r":28,"c":25,"v":0.48},{"r":28,"c":26,"v":0.4},{"r":28,"c":27,"v":0.39},{"r":28,"c":28,"v":1},{"r":28,"c":29,"v":0.4},{"r":28,"c":30,"v":0.86},{"r":28,"c":31,"v":-0.48},{"r":28,"c":32,"v":-0.24},{"r":28,"c":33,"v":0.26},{"r":28,"c":34,"v":-0.49},{"r":28,"c":35,"v":0.51},{"r":28,"c":36,"v":0.41},{"r":28,"c":37,"v":-0.46},{"r":28,"c":38,"v":-0.05},{"r":28,"c":39,"v":0},
{"r":29,"c":1,"v":0},{"r":29,"c":2,"v":0},{"r":29,"c":3,"v":0.69},{"r":29,"c":4,"v":0.52},{"r":29,"c":5,"v":0.45},{"r":29,"c":6,"v":-0.26},{"r":29,"c":7,"v":-0.12},{"r":29,"c":8,"v":0},{"r":29,"c":9,"v":-0.47},{"r":29,"c":10,"v":0},{"r":29,"c":11,"v":0.21},{"r":29,"c":12,"v":0},{"r":29,"c":13,"v":0.22},{"r":29,"c":14,"v":0.2},{"r":29,"c":15,"v":0.26},{"r":29,"c":16,"v":0.25},{"r":29,"c":17,"v":0},{"r":29,"c":18,"v":0},{"r":29,"c":19,"v":0.14},{"r":29,"c":20,"v":0.93},{"r":29,"c":21,"v":0},{"r":29,"c":22,"v":0.28},{"r":29,"c":23,"v":0},{"r":29,"c":24,"v":0.61},{"r":29,"c":25,"v":0.23},{"r":29,"c":26,"v":0.99},{"r":29,"c":27,"v":0.99},{"r":29,"c":28,"v":0.4},{"r":29,"c":29,"v":1},{"r":29,"c":30,"v":0.29},{"r":29,"c":31,"v":0.39},{"r":29,"c":32,"v":0.38},{"r":29,"c":33,"v":0.72},{"r":29,"c":34,"v":0.37},{"r":29,"c":35,"v":0.19},{"r":29,"c":36,"v":0.23},{"r":29,"c":37,"v":-0.13},{"r":29,"c":38,"v":-0.65},{"r":29,"c":39,"v":0},
{"r":30,"c":1,"v":0.17},{"r":30,"c":2,"v":0.16},{"r":30,"c":3,"v":0.66},{"r":30,"c":4,"v":0.33},{"r":30,"c":5,"v":0.49},{"r":30,"c":6,"v":-0.48},{"r":30,"c":7,"v":-0.1},{"r":30,"c":8,"v":0.06},{"r":30,"c":9,"v":-0.48},{"r":30,"c":10,"v":-0.21},{"r":30,"c":11,"v":0.32},{"r":30,"c":12,"v":0.02},{"r":30,"c":13,"v":0.27},{"r":30,"c":14,"v":0.23},{"r":30,"c":15,"v":0.29},{"r":30,"c":16,"v":0.12},{"r":30,"c":17,"v":-0.27},{"r":30,"c":18,"v":-0.27},{"r":30,"c":19,"v":0.21},{"r":30,"c":20,"v":0.41},{"r":30,"c":21,"v":-0.01},{"r":30,"c":22,"v":0.22},{"r":30,"c":23,"v":-0.02},{"r":30,"c":24,"v":0.67},{"r":30,"c":25,"v":0.14},{"r":30,"c":26,"v":0.28},{"r":30,"c":27,"v":0.27},{"r":30,"c":28,"v":0.86},{"r":30,"c":29,"v":0.29},{"r":30,"c":30,"v":1},{"r":30,"c":31,"v":-0.52},{"r":30,"c":32,"v":-0.33},{"r":30,"c":33,"v":0.11},{"r":30,"c":34,"v":-0.53},{"r":30,"c":35,"v":0.51},{"r":30,"c":36,"v":0.5},{"r":30,"c":37,"v":-0.48},{"r":30,"c":38,"v":-0.16},{"r":30,"c":39,"v":-0.08},
{"r":31,"c":1,"v":0},{"r":31,"c":2,"v":0},{"r":31,"c":3,"v":0.08},{"r":31,"c":4,"v":-0.25},{"r":31,"c":5,"v":0.26},{"r":31,"c":6,"v":0.33},{"r":31,"c":7,"v":0.36},{"r":31,"c":8,"v":1},{"r":31,"c":9,"v":-0.01},{"r":31,"c":10,"v":0},{"r":31,"c":11,"v":0.32},{"r":31,"c":12,"v":0},{"r":31,"c":13,"v":0.3},{"r":31,"c":14,"v":0.31},{"r":31,"c":15,"v":0.29},{"r":31,"c":16,"v":-0.17},{"r":31,"c":17,"v":0},{"r":31,"c":18,"v":0},{"r":31,"c":19,"v":0.3},{"r":31,"c":20,"v":0.29},{"r":31,"c":21,"v":0},{"r":31,"c":22,"v":-0.29},{"r":31,"c":23,"v":0},{"r":31,"c":24,"v":-0.11},{"r":31,"c":25,"v":-0.22},{"r":31,"c":26,"v":0.43},{"r":31,"c":27,"v":0.44},{"r":31,"c":28,"v":-0.48},{"r":31,"c":29,"v":0.39},{"r":31,"c":30,"v":-0.52},{"r":31,"c":31,"v":1},{"r":31,"c":32,"v":0.87},{"r":31,"c":33,"v":0.67},{"r":31,"c":34,"v":1},{"r":31,"c":35,"v":-0.38},{"r":31,"c":36,"v":-0.14},{"r":31,"c":37,"v":0.37},{"r":31,"c":38,"v":-0.31},{"r":31,"c":39,"v":0},
{"r":32,"c":1,"v":0},{"r":32,"c":2,"v":0},{"r":32,"c":3,"v":0.27},{"r":32,"c":4,"v":0.04},{"r":32,"c":5,"v":0.47},{"r":32,"c":6,"v":0.3},{"r":32,"c":7,"v":0.39},{"r":32,"c":8,"v":1},{"r":32,"c":9,"v":-0.16},{"r":32,"c":10,"v":0},{"r":32,"c":11,"v":0.49},{"r":32,"c":12,"v":0},{"r":32,"c":13,"v":0.49},{"r":32,"c":14,"v":0.49},{"r":32,"c":15,"v":0.49},{"r":32,"c":16,"v":-0.04},{"r":32,"c":17,"v":0},{"r":32,"c":18,"v":0},{"r":32,"c":19,"v":0.49},{"r":32,"c":20,"v":0.44},{"r":32,"c":21,"v":0},{"r":32,"c":22,"v":-0.1},{"r":32,"c":23,"v":0},{"r":32,"c":24,"v":0.16},{"r":32,"c":25,"v":0.01},{"r":32,"c":26,"v":0.43},{"r":32,"c":27,"v":0.44},{"r":32,"c":28,"v":-0.24},{"r":32,"c":29,"v":0.38},{"r":32,"c":30,"v":-0.33},{"r":32,"c":31,"v":0.87},{"r":32,"c":32,"v":1},{"r":32,"c":33,"v":0.7},{"r":32,"c":34,"v":0.87},{"r":32,"c":35,"v":-0.36},{"r":32,"c":36,"v":-0.01},{"r":32,"c":37,"v":0.39},{"r":32,"c":38,"v":-0.03},{"r":32,"c":39,"v":0},
{"r":33,"c":1,"v":0},{"r":33,"c":2,"v":0},{"r":33,"c":3,"v":0.53},{"r":33,"c":4,"v":0.34},{"r":33,"c":5,"v":0.42},{"r":33,"c":6,"v":-0.13},{"r":33,"c":7,"v":0.02},{"r":33,"c":8,"v":1},{"r":33,"c":9,"v":-0.4},{"r":33,"c":10,"v":0},{"r":33,"c":11,"v":0.26},{"r":33,"c":12,"v":0},{"r":33,"c":13,"v":0.27},{"r":33,"c":14,"v":0.26},{"r":33,"c":15,"v":0.3},{"r":33,"c":16,"v":0.01},{"r":33,"c":17,"v":0},{"r":33,"c":18,"v":0},{"r":33,"c":19,"v":0.21},{"r":33,"c":20,"v":0.73},{"r":33,"c":21,"v":0},{"r":33,"c":22,"v":0.13},{"r":33,"c":23,"v":0},{"r":33,"c":24,"v":0.57},{"r":33,"c":25,"v":0.11},{"r":33,"c":26,"v":0.78},{"r":33,"c":27,"v":0.78},{"r":33,"c":28,"v":0.26},{"r":33,"c":29,"v":0.72},{"r":33,"c":30,"v":0.11},{"r":33,"c":31,"v":0.67},{"r":33,"c":32,"v":0.7},{"r":33,"c":33,"v":1},{"r":33,"c":34,"v":0.66},{"r":33,"c":35,"v":0.06},{"r":33,"c":36,"v":-0.02},{"r":33,"c":37,"v":0.01},{"r":33,"c":38,"v":-0.38},{"r":33,"c":39,"v":0},
{"r":34,"c":1,"v":0},{"r":34,"c":2,"v":0},{"r":34,"c":3,"v":0.07},{"r":34,"c":4,"v":-0.26},{"r":34,"c":5,"v":0.25},{"r":34,"c":6,"v":0.33},{"r":34,"c":7,"v":0.36},{"r":34,"c":8,"v":1},{"r":34,"c":9,"v":-0.01},{"r":34,"c":10,"v":0},{"r":34,"c":11,"v":0.32},{"r":34,"c":12,"v":0},{"r":34,"c":13,"v":0.3},{"r":34,"c":14,"v":0.3},{"r":34,"c":15,"v":0.29},{"r":34,"c":16,"v":-0.17},{"r":34,"c":17,"v":0},{"r":34,"c":18,"v":0},{"r":34,"c":19,"v":0.3},{"r":34,"c":20,"v":0.27},{"r":34,"c":21,"v":0},{"r":34,"c":22,"v":-0.3},{"r":34,"c":23,"v":0},{"r":34,"c":24,"v":-0.11},{"r":34,"c":25,"v":-0.23},{"r":34,"c":26,"v":0.41},{"r":34,"c":27,"v":0.41},{"r":34,"c":28,"v":-0.49},{"r":34,"c":29,"v":0.37},{"r":34,"c":30,"v":-0.53},{"r":34,"c":31,"v":1},{"r":34,"c":32,"v":0.87},{"r":34,"c":33,"v":0.66},{"r":34,"c":34,"v":1},{"r":34,"c":35,"v":-0.38},{"r":34,"c":36,"v":-0.14},{"r":34,"c":37,"v":0.38},{"r":34,"c":38,"v":-0.3},{"r":34,"c":39,"v":0},
{"r":35,"c":1,"v":-0.36},{"r":35,"c":2,"v":-0.35},{"r":35,"c":3,"v":0.32},{"r":35,"c":4,"v":0.35},{"r":35,"c":5,"v":0.11},{"r":35,"c":6,"v":-0.57},{"r":35,"c":7,"v":-0.31},{"r":35,"c":8,"v":0.08},{"r":35,"c":9,"v":-0.58},{"r":35,"c":10,"v":0.34},{"r":35,"c":11,"v":-0.02},{"r":35,"c":12,"v":0.2},{"r":35,"c":13,"v":-0.07},{"r":35,"c":14,"v":-0.1},{"r":35,"c":15,"v":-0.06},{"r":35,"c":16,"v":0.26},{"r":35,"c":17,"v":0.18},{"r":35,"c":18,"v":0.18},{"r":35,"c":19,"v":-0.1},{"r":35,"c":20,"v":0.27},{"r":35,"c":21,"v":-0.56},{"r":35,"c":22,"v":0.29},{"r":35,"c":23,"v":0.24},{"r":35,"c":24,"v":0.46},{"r":35,"c":25,"v":0.16},{"r":35,"c":26,"v":0.19},{"r":35,"c":27,"v":0.19},{"r":35,"c":28,"v":0.51},{"r":35,"c":29,"v":0.19},{"r":35,"c":30,"v":0.51},{"r":35,"c":31,"v":-0.38},{"r":35,"c":32,"v":-0.36},{"r":35,"c":33,"v":0.06},{"r":35,"c":34,"v":-0.38},{"r":35,"c":35,"v":1},{"r":35,"c":36,"v":0.46},{"r":35,"c":37,"v":-0.45},{"r":35,"c":38,"v":-0.15},{"r":35,"c":39,"v":-0.44},
{"r":36,"c":1,"v":-0.31},{"r":36,"c":2,"v":-0.3},{"r":36,"c":3,"v":0.39},{"r":36,"c":4,"v":0.25},{"r":36,"c":5,"v":0.35},{"r":36,"c":6,"v":-0.41},{"r":36,"c":7,"v":-0.08},{"r":36,"c":8,"v":0.1},{"r":36,"c":9,"v":-0.5},{"r":36,"c":10,"v":0.26},{"r":36,"c":11,"v":0.24},{"r":36,"c":12,"v":0.21},{"r":36,"c":13,"v":0.21},{"r":36,"c":14,"v":0.18},{"r":36,"c":15,"v":0.22},{"r":36,"c":16,"v":0.6},{"r":36,"c":17,"v":0.17},{"r":36,"c":18,"v":0.17},{"r":36,"c":19,"v":0.16},{"r":36,"c":20,"v":0.34},{"r":36,"c":21,"v":-0.43},{"r":36,"c":22,"v":0.4},{"r":36,"c":23,"v":0.24},{"r":36,"c":24,"v":0.42},{"r":36,"c":25,"v":0.35},{"r":36,"c":26,"v":0.22},{"r":36,"c":27,"v":0.22},{"r":36,"c":28,"v":0.41},{"r":36,"c":29,"v":0.23},{"r":36,"c":30,"v":0.5},{"r":36,"c":31,"v":-0.14},{"r":36,"c":32,"v":-0.01},{"r":36,"c":33,"v":-0.02},{"r":36,"c":34,"v":-0.14},{"r":36,"c":35,"v":0.46},{"r":36,"c":36,"v":1},{"r":36,"c":37,"v":-0.3},{"r":36,"c":38,"v":-0.15},{"r":36,"c":39,"v":-0.29},
{"r":37,"c":1,"v":-0.1},{"r":37,"c":2,"v":-0.1},{"r":37,"c":3,"v":-0.06},{"r":37,"c":4,"v":-0.03},{"r":37,"c":5,"v":0.2},{"r":37,"c":6,"v":0.31},{"r":37,"c":7,"v":0.71},{"r":37,"c":8,"v":-0.05},{"r":37,"c":9,"v":0.27},{"r":37,"c":10,"v":0.2},{"r":37,"c":11,"v":0.42},{"r":37,"c":12,"v":-0.11},{"r":37,"c":13,"v":0.48},{"r":37,"c":14,"v":0.52},{"r":37,"c":15,"v":0.46},{"r":37,"c":16,"v":-0.07},{"r":37,"c":17,"v":0.24},{"r":37,"c":18,"v":0.26},{"r":37,"c":19,"v":0.55},{"r":37,"c":20,"v":-0.13},{"r":37,"c":21,"v":0.09},{"r":37,"c":22,"v":-0.02},{"r":37,"c":23,"v":-0.15},{"r":37,"c":24,"v":-0.31},{"r":37,"c":25,"v":0.07},{"r":37,"c":26,"v":-0.12},{"r":37,"c":27,"v":-0.12},{"r":37,"c":28,"v":-0.46},{"r":37,"c":29,"v":-0.13},{"r":37,"c":30,"v":-0.48},{"r":37,"c":31,"v":0.37},{"r":37,"c":32,"v":0.39},{"r":37,"c":33,"v":0.01},{"r":37,"c":34,"v":0.38},{"r":37,"c":35,"v":-0.45},{"r":37,"c":36,"v":-0.3},{"r":37,"c":37,"v":1},{"r":37,"c":38,"v":0.23},{"r":37,"c":39,"v":0.3},
{"r":38,"c":1,"v":0.06},{"r":38,"c":2,"v":0.08},{"r":38,"c":3,"v":-0.13},{"r":38,"c":4,"v":0.07},{"r":38,"c":5,"v":0.01},{"r":38,"c":6,"v":0.19},{"r":38,"c":7,"v":0.17},{"r":38,"c":8,"v":-0.73},{"r":38,"c":9,"v":0.18},{"r":38,"c":10,"v":0.08},{"r":38,"c":11,"v":0.08},{"r":38,"c":12,"v":-0.22},{"r":38,"c":13,"v":0.13},{"r":38,"c":14,"v":0.15},{"r":38,"c":15,"v":0.13},{"r":38,"c":16,"v":-0.01},{"r":38,"c":17,"v":0.08},{"r":38,"c":18,"v":0.08},{"r":38,"c":19,"v":0.16},{"r":38,"c":20,"v":-0.38},{"r":38,"c":21,"v":-0.29},{"r":38,"c":22,"v":-0.02},{"r":38,"c":23,"v":-0.34},{"r":38,"c":24,"v":-0.12},{"r":38,"c":25,"v":0.06},{"r":38,"c":26,"v":-0.61},{"r":38,"c":27,"v":-0.61},{"r":38,"c":28,"v":-0.05},{"r":38,"c":29,"v":-0.65},{"r":38,"c":30,"v":-0.16},{"r":38,"c":31,"v":-0.31},{"r":38,"c":32,"v":-0.03},{"r":38,"c":33,"v":-0.38},{"r":38,"c":34,"v":-0.3},{"r":38,"c":35,"v":-0.15},{"r":38,"c":36,"v":-0.15},{"r":38,"c":37,"v":0.23},{"r":38,"c":38,"v":1},{"r":38,"c":39,"v":0.02},
{"r":39,"c":1,"v":0.01},{"r":39,"c":2,"v":0},{"r":39,"c":3,"v":-0.11},{"r":39,"c":4,"v":0.13},{"r":39,"c":5,"v":-0.22},{"r":39,"c":6,"v":0.18},{"r":39,"c":7,"v":0.18},{"r":39,"c":8,"v":0.74},{"r":39,"c":9,"v":0.12},{"r":39,"c":10,"v":-0.1},{"r":39,"c":11,"v":0.06},{"r":39,"c":12,"v":-0.04},{"r":39,"c":13,"v":0.06},{"r":39,"c":14,"v":0.08},{"r":39,"c":15,"v":0.03},{"r":39,"c":16,"v":-0.09},{"r":39,"c":17,"v":0.05},{"r":39,"c":18,"v":0.04},{"r":39,"c":19,"v":0.18},{"r":39,"c":20,"v":0},{"r":39,"c":21,"v":0.57},{"r":39,"c":22,"v":0.05},{"r":39,"c":23,"v":0.24},{"r":39,"c":24,"v":0},{"r":39,"c":25,"v":0.06},{"r":39,"c":26,"v":0},{"r":39,"c":27,"v":0},{"r":39,"c":28,"v":0},{"r":39,"c":29,"v":0},{"r":39,"c":30,"v":-0.08},{"r":39,"c":31,"v":0},{"r":39,"c":32,"v":0},{"r":39,"c":33,"v":0},{"r":39,"c":34,"v":0},{"r":39,"c":35,"v":-0.44},{"r":39,"c":36,"v":-0.29},{"r":39,"c":37,"v":0.3},{"r":39,"c":38,"v":0.02},{"r":39,"c":39,"v":1}
]},
"hconcat":[
{"width":391,"height":847,
"layer":[
{"data":{"name":"panel"},"mark":{"type":"rect","cornerRadius":3,"strokeWidth":1},
"encoding":{"x":{"field":"x","type":"quantitative","scale":{"domain":[0,391],"nice":false},"axis":null},"x2":{"field":"x2"},"y":{"field":"y","type":"quantitative","scale":{"domain":[0,847],"reverse":true,"nice":false,"zero":false},"axis":null},"y2":{"field":"y2"},
"fill":{"field":"part","type":"nominal","legend":null,"scale":{"domain":["card","header","input","reset","apply"],"range":["#ffffff","#f7f7f7","#ffffff","#6c757d","#007bff"]}},
"stroke":{"field":"part","type":"nominal","legend":null,"scale":{"domain":["card","header","input","reset","apply"],"range":["#dfdfdf","#dfdfdf","#ced4da","#6c757d","#007bff"]}}}},
{"data":{"name":"labels"},"mark":{"type":"text","align":"left","baseline":"middle","fontSize":15.2,"font":"Open Sans"},
"encoding":{"x":{"field":"x","type":"quantitative"},"y":{"field":"y","type":"quantitative"},"text":{"field":"text"},
"color":{"field":"kind","type":"nominal","legend":null,"scale":{"domain":["label","hint","value"],"range":["#212529","#6c757d","#495057"]}}}},
{"data":{"name":"buttons"},"mark":{"type":"text","align":"center","baseline":"middle","fontSize":15.2,"font":"Open Sans","color":"#ffffff"},
"encoding":{"x":{"field":"x","type":"quantitative"},"y":{"field":"y","type":"quantitative"},"text":{"field":"text"}}},
{"data":{"name":"chevron"},"mark":{"type":"point","shape":"M-1,-0.5L0,0.5L1,-0.5","filled":false,"stroke":"#343a40","strokeWidth":2,"size":60},
"encoding":{"x":{"field":"x","type":"quantitative"},"y":{"field":"y","type":"quantitative"}}}
],"resolve":{"scale":{"fill":"independent","color":"independent"}}},
{"width":825,"height":847,
"data":{"name":"cells"},
"transform":[{"lookup":"r","from":{"data":{"name":"tags"},"key":"i","fields":["tag"]}}],
"encoding":{
"x":{"field":"c","type":"ordinal","axis":null,"sort":null,"scale":{"paddingInner":0,"paddingOuter":0}},
"y":{"field":"tag","type":"nominal","title":null,"sort":null,"scale":{"range":[15.5,839.5],"paddingInner":0,"paddingOuter":0},"axis":{"domain":false,"tickColor":"#999999","tickSize":5,"labelPadding":5,"labelLimit":400,"labelFontSize":10.75,"labelFont":"Open Sans","labelColor":"#333333"}}
},
"layer":[
{"mark":{"type":"rect","fillOpacity":0.85,"stroke":"#ffffff","strokeWidth":0.5,"strokeOpacity":0.3},
"encoding":{"fill":{"field":"v","type":"quantitative","legend":null,"scale":{"type":"quantize","domain":[-0.98,1],"range":["#a50026","#d73027","#f46d43","#fdae61","#fee090","#ffffbf","#e0f3f8","#abd9e9","#74add1","#4575b4","#313695"]}}}},
{"mark":{"type":"text","fontSize":8.6,"font":"Open Sans","align":"center","baseline":"middle"},
"encoding":{"text":{"field":"v","type":"quantitative","format":".2~f"},
"color":{"condition":{"test":"datum.v>=0.64||datum.v<=-0.63","value":"#ffffff"},"value":"#333333"}}}
]}
]}
